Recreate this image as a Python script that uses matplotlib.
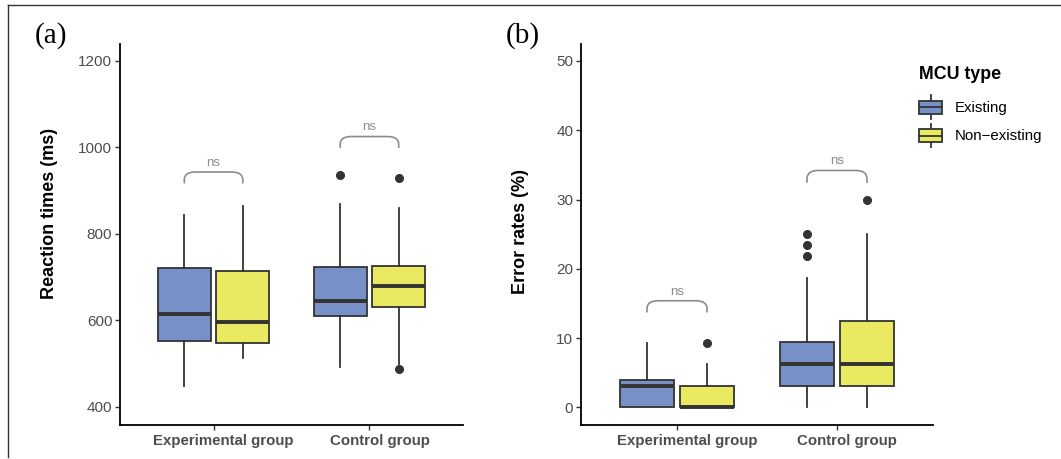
import matplotlib
matplotlib.use('Agg')
import matplotlib.pyplot as plt
from matplotlib.patches import Rectangle, PathPatch
from matplotlib.path import Path
from matplotlib.lines import Line2D
from matplotlib.legend_handler import HandlerBase
from matplotlib.transforms import ScaledTranslation

plt.rcParams['font.family'] = ['Liberation Sans', 'DejaVu Sans']

groups = ['Experimental group', 'Control group']
mcu_types = ['Existing', 'Non\u2212existing']
fills = ['#7890C8', '#EAE962']

# (a) reaction times, per MCU type: [experimental, control]
rt_q1 = [[553, 610], [547, 631]]
rt_med = [[614, 644], [597, 680]]
rt_q3 = [[721, 723], [713, 726]]
rt_lo = [[449, 493], [512, 499]]
rt_hi = [[844, 869], [865, 860]]
rt_out = [[[], [936]], [[], [930, 487]]]
rt_bracket = [918, 1000]      # bracket ends
rt_bracket_top = [943, 1025]
rt_ns = [958, 1040]

# (b) error rates (%)
er_q1 = [[0, 3.125], [0, 3.125]]
er_med = [[3.125, 6.25], [0, 6.25]]
er_q3 = [[3.9, 9.5], [3.125, 12.5]]
er_lo = [[0, 0], [0, 0]]
er_hi = [[9.375, 18.75], [6.25, 25]]
er_out = [[[], [21.875, 23.4, 25]], [[9.375], [30]]]
er_bracket = [13.8, 32.5]
er_bracket_top = [15.4, 34.2]
er_ns = [16.3, 35.1]

W, H = 1061, 459
fig = plt.figure(figsize=(W / 100, H / 100), dpi=100)


def px_axes(l, r, t, b):
    return fig.add_axes([l / W, 1 - b / H, (r - l) / W, (b - t) / H])


ax_a = px_axes(120, 463, 44, 425)
ax_b = px_axes(581, 933, 44, 425)

dark = '#333333'
off = 0.1875
bw = 0.3375


def draw_panel(ax, q1, med, q3, lo, hi, out, br, br_top, ns, ylim, yticks, ylabel):
    for t in range(2):
        stats = []
        for g in range(2):
            stats.append(dict(med=med[t][g], q1=q1[t][g], q3=q3[t][g],
                              whislo=lo[t][g], whishi=hi[t][g], fliers=out[t][g]))
        pos = [g + 1 + (off if t else -off) for g in range(2)]
        ax.bxp(stats, positions=pos, widths=bw, patch_artist=True, showcaps=False,
               boxprops=dict(facecolor=fills[t], edgecolor=dark, linewidth=1.3),
               medianprops=dict(color=dark, linewidth=2.8, solid_capstyle='butt'),
               whiskerprops=dict(color=dark, linewidth=1.3),
               flierprops=dict(marker='o', markerfacecolor=dark, markeredgecolor=dark,
                               markersize=5.5, linestyle='none'),
               manage_ticks=False, zorder=2)
    # significance brackets
    for g in range(2):
        x1, x2 = g + 1 - off, g + 1 + off
        y0, y1 = br[g], br_top[g]
        dx = 0.07
        verts = [(x1, y0), (x1, y0 + (y1 - y0) * 0.3), (x1, y1), (x1 + dx, y1),
                 (x2 - dx, y1), (x2, y1), (x2, y0 + (y1 - y0) * 0.3), (x2, y0)]
        codes = [Path.MOVETO, Path.LINETO, Path.CURVE3, Path.CURVE3,
                 Path.LINETO, Path.CURVE3, Path.CURVE3, Path.LINETO]
        ax.add_patch(PathPatch(Path(verts, codes), fill=False, edgecolor='#8C8C8C',
                               linewidth=1.2, capstyle='round'))
        ax.text(g + 1, ns[g], 'ns', ha='center', va='baseline', fontsize=9.5, color='#8C8C8C')
    ax.set_xlim(0.4, 2.6)
    ax.set_ylim(*ylim)
    ax.set_yticks(yticks)
    ax.set_xticks([1, 2])
    ax.tick_params(axis='y', labelsize=11, labelcolor='#4D4D4D', color=dark, length=3.5, width=1, pad=2)
    ax.tick_params(axis='x', color=dark, length=3.5, width=1, pad=3)
    ax.set_xticklabels(groups, fontsize=10.8, fontweight='bold', color='#4D4D4D')
    for lab in ax.get_xticklabels():
        lab.set_transform(lab.get_transform() + ScaledTranslation(0.1, 0, fig.dpi_scale_trans))
    ax.set_ylabel(ylabel, fontsize=13, fontweight='bold', color='black')
    for s in ['top', 'right']:
        ax.spines[s].set_visible(False)
    for s in ['left', 'bottom']:
        ax.spines[s].set_linewidth(1.3)
        ax.spines[s].set_color('black')


draw_panel(ax_a, rt_q1, rt_med, rt_q3, rt_lo, rt_hi, rt_out, rt_bracket, rt_bracket_top,
           rt_ns, (358, 1239), [400, 600, 800, 1000, 1200], 'Reaction times (ms)')
draw_panel(ax_b, er_q1, er_med, er_q3, er_lo, er_hi, er_out, er_bracket, er_bracket_top,
           er_ns, (-2.53, 52.45), [0, 10, 20, 30, 40, 50], 'Error rates (%)')
ax_a.yaxis.set_label_coords(-0.182, 0.556)
ax_b.yaxis.set_label_coords(-0.148, 0.507)


class BoxKey(HandlerBase):
    def create_artists(self, legend, orig_handle, xdescent, ydescent, width, height, fontsize, trans):
        x0, y0 = -xdescent, -ydescent
        stub = height * 0.22
        cx = x0 + width / 2
        rect = Rectangle((x0, y0 + stub), width, height - 2 * stub,
                         facecolor=orig_handle.get_facecolor(), edgecolor=dark,
                         linewidth=1.3, transform=trans)
        med = Line2D([x0, x0 + width], [y0 + height / 2] * 2, color=dark, lw=1.3, transform=trans)
        w1 = Line2D([cx, cx], [y0, y0 + stub], color=dark, lw=1.3, transform=trans)
        w2 = Line2D([cx, cx], [y0 + height - stub, y0 + height], color=dark, lw=1.3, transform=trans)
        return [w1, w2, rect, med]


handles = [Rectangle((0, 0), 1, 1, facecolor=c) for c in fills]
leg = ax_b.legend(handles, mcu_types, handler_map={Rectangle: BoxKey()},
                  loc='upper left', bbox_to_anchor=(919 / W, 1 - 66 / H),
                  bbox_transform=fig.transFigure, frameon=False, fontsize=10.8,
                  title='MCU type', title_fontproperties={'weight': 'bold', 'size': 12.8},
                  alignment='left', borderpad=0, borderaxespad=0,
                  handlelength=1.55, handleheight=2.0, handletextpad=0.85,
                  labelspacing=0.35)
leg._legend_box.sep = 9

# panel labels and figure frame
fig.text(35 / W, 1 - 36 / H, '(a)', fontsize=21, va='center', family=['Liberation Serif', 'DejaVu Serif'])
fig.text(506 / W, 1 - 36 / H, '(b)', fontsize=21, va='center', family=['Liberation Serif', 'DejaVu Serif'])
fig.add_artist(Line2D([8 / W, 1], [1 - 5 / H, 1 - 5 / H], color='#333333', lw=1, transform=fig.transFigure))
fig.add_artist(Line2D([8 / W, 8 / W], [1 - 5 / H, 1 - 457 / H], color='#333333', lw=1, transform=fig.transFigure))

fig.savefig('out.png', dpi=100)
